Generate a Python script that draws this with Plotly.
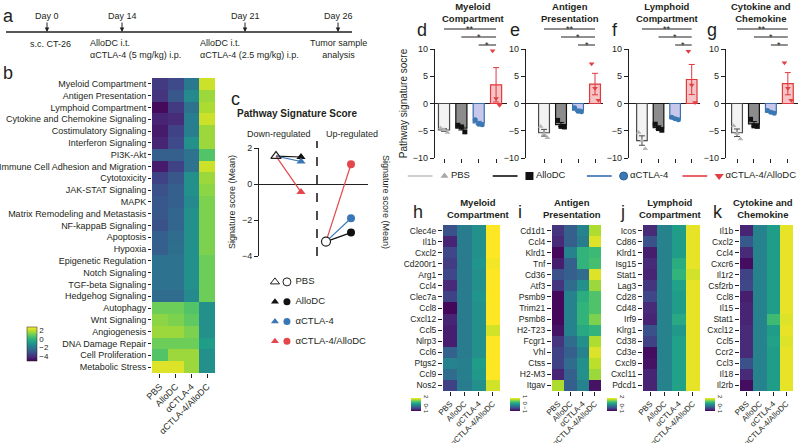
import plotly.graph_objects as go
import numpy as np

W, H = 800, 443
FONT = "Liberation Sans, Arial, Helvetica, sans-serif"
INK = "#231f20"

# ------------------------------------------------------------------ data
groups = ["PBS", "AlloDC", "αCTLA-4", "αCTLA-4/AlloDC"]

timeline_days = ["Day 0", "Day 14", "Day 21", "Day 26"]
timeline_events = ["s.c. CT-26",
                   "AlloDC i.t.<br>αCTLA-4 (5 mg/kg) i.p.",
                   "AlloDC i.t.<br>αCTLA-4 (2.5 mg/kg) i.p.",
                   "Tumor sample<br>analysis"]

pathways = ["Myeloid Compartment", "Antigen Presentation", "Lymphoid Compartment",
            "Cytokine and Chemokine Signaling", "Costimulatory Signaling",
            "Interferon Signaling", "PI3K-Akt", "Immune Cell Adhesion and Migration",
            "Cytotoxicity", "JAK-STAT Signaling", "MAPK",
            "Matrix Remodeling and Metastasis", "NF-kappaB Signaling", "Apoptosis",
            "Hypoxia", "Epigenetic Regulation", "Notch Signaling", "TGF-beta Signaling",
            "Hedgehog Signaling", "Autophagy", "Wnt Signaling", "Angiogenesis",
            "DNA Damage Repair", "Cell Proliferation", "Metabolic Stress"]
pathway_pbs = [-3.8, -4.0, -5.0, -4.4, -4.6, -4.4, -2.8, -4.6, -3.6, -3.2, -3.0, -3.0, -3.2,
               -2.8, -2.8, -2.2, -2.2, -2.2, -2.4, 1.0, 1.4, 1.6, 1.0, 0.6, 2.4]
pathway_allodc = [-3.4, -3.0, -3.8, -4.2, -3.6, -3.4, -2.8, -3.6, -3.0, -2.8, -2.8, -2.6, -2.6,
                  -2.4, -2.3, -2.2, -2.2, -2.2, -2.4, 1.0, 1.2, 1.6, 1.0, 1.6, 2.4]
pathway_actla4 = [-2.0, -1.4, -2.2, -1.8, -1.8, -1.2, -2.2, -2.2, -1.2, -1.2, -1.4, -1.2, -1.2,
                  -1.2, -1.2, -1.2, -1.2, -1.2, -1.4, 0.6, 0.8, 1.2, 1.0, 1.6, 1.6]
pathway_combo = [2.2, 1.6, 1.8, 2.2, 1.6, 1.6, 0.6, 2.2, 1.6, 1.4, 1.2, 1.2, 1.2,
                 1.2, 1.2, 1.0, 1.0, 1.0, 1.0, -1.2, -1.2, -1.2, -0.8, -1.2, -1.2]

# panel c: mean signature scores
down_pbs = 1.55
down_groups = [1.5, 1.25, -0.45]      # AlloDC, aCTLA-4, aCTLA-4/AlloDC
up_pbs = -3.2
up_groups = [-2.7, -1.9, 1.1]

# panels d-g: individual pathway signature scores (3 mice per group)
bar_titles = ["Myeloid<br>Compartment", "Antigen<br>Presentation",
              "Lymphoid<br>Compartment", "Cytokine and<br>Chemokine"]
myeloid_pts = [[-4.5, -4.8, -5.3], [-4.0, -4.3, -5.2], [-3.0, -3.8, -3.9], [9.7, 0.9, -0.3]]
antigen_pts = [[-4.2, -5.6, -6.3], [-3.1, -4.2, -4.3], [-0.8, -1.4, -1.5], [7.3, 2.8, 0.6]]
lymphoid_pts = [[-5.3, -6.8, -8.3], [-3.8, -4.6, -4.9], [-2.5, -2.8, -3.0], [9.6, 3.4, 0.2]]
cytokine_pts = [[-4.1, -5.5, -6.5], [-2.9, -4.1, -4.2], [-1.3, -1.6, -1.8], [7.5, 2.8, 0.6]]
sig_pairs = [(0, 3), (1, 3), (2, 3)]
sig_labels = ["**", "*", "*"]
bar_yticks = [-10, -5, 0, 5, 10]

# panels h-k: gene z-scores (PBS, AlloDC, aCTLA-4, aCTLA-4/AlloDC)
myeloid_genes = ["Clec4e", "Il1b", "Cxcl2", "Cd200r1", "Arg1", "Ccl4", "Clec7a", "Ccl8",
                 "Cxcl12", "Ccl5", "Nlrp3", "Ccl6", "Ptgs2", "Ccl9", "Nos2"]
myeloid_z = [[-0.25, 0.25, 0.5, 2.0], [-0.7, 0.25, 0.5, 2.0], [-0.35, 0.25, 0.5, 2.0],
             [-0.45, 0.25, 0.55, 1.95], [-0.35, 0.25, 0.5, 2.0], [-0.65, 0.25, 0.5, 2.0],
             [-0.4, 0.25, 0.55, 2.0], [-0.95, 0.25, 0.5, 2.0], [-0.7, 0.25, 0.5, 2.0],
             [-0.75, 0.25, 0.5, 1.8], [-0.75, 0.25, 0.5, 2.0], [-0.05, 0.25, 0.5, 2.0],
             [0.35, 0.3, 0.65, 2.0], [0.05, 0.3, 0.6, 2.0], [-0.4, 0.25, 0.5, 1.8]]
antigen_genes = ["Cd1d1", "Ccl4", "Klrd1", "Tnf", "Cd36", "Atf3", "Psmb9", "Trim21", "Psmb8",
                 "H2-T23", "Fcgr1", "Vhl", "Ctss", "H2-M3", "Itgav"]
antigen_z = [[-0.7, -0.4, -0.1, 0.76], [-0.76, -0.4, -0.16, 0.9], [-0.96, -0.1, 0.3, 0.36],
             [-0.84, -0.4, 0.3, 0.4], [-0.5, -0.4, -0.3, 0.9], [-0.7, -0.3, 0.0, 0.7],
             [-0.96, -0.1, 0.24, 0.44], [-0.96, -0.1, 0.3, 0.44], [-0.96, -0.1, 0.3, 0.6],
             [-0.9, -0.1, 0.2, 0.3], [-0.7, -0.3, 0.0, 0.76], [-0.6, -0.4, -0.1, 0.9],
             [-0.6, -0.3, 0.0, 0.8], [-0.8, -0.4, 0.0, 0.7], [0.76, -0.4, -0.1, -0.9]]
lymphoid_genes = ["Icos", "Cd86", "Klrd1", "Isg15", "Stat1", "Lag3", "Cd28", "Cd48", "Irf9",
                  "Klrg1", "Cd38", "Cd3e", "Cxcl9", "Cxcl11", "Pdcd1"]
lymphoid_z = [[-0.64, 0.35, 0.65, 1.9], [-0.25, 0.35, 0.65, 1.9], [-0.76, 0.35, 0.65, 1.9],
              [-0.64, 0.35, 0.85, 1.9], [-0.7, 0.35, 0.95, 1.8], [-0.55, 0.35, 0.7, 1.9],
              [-0.35, 0.35, 0.65, 1.9], [-0.64, 0.35, 0.65, 1.9], [-0.7, 0.35, 0.8, 1.9],
              [-0.25, 0.35, 0.6, 1.9], [-0.4, 0.35, 0.7, 1.9], [-0.9, 0.35, 0.7, 1.9],
              [-0.85, 0.35, 0.7, 1.9], [-0.7, 0.35, 0.7, 1.9], [-0.7, 0.35, 0.7, 1.9]]
cytokine_genes = ["Il1b", "Cxcl2", "Ccl4", "Cxcr6", "Il1r2", "Csf2rb", "Ccl8", "Il15", "Stat1",
                  "Cxcl12", "Ccl5", "Ccr2", "Ccl3", "Il18", "Il2rb"]
cytokine_z = [[-0.7, 0.35, 0.65, 1.9], [-0.15, 0.35, 0.65, 1.9], [-0.64, 0.35, 0.65, 1.9],
              [-0.9, 0.35, 0.65, 1.9], [-0.4, 0.35, 0.65, 1.9], [-0.35, 0.35, 0.65, 1.9],
              [-0.76, 0.35, 0.65, 1.9], [-0.7, 0.35, 0.65, 1.9], [-0.7, 0.35, 1.05, 1.85],
              [-0.64, 0.35, 0.65, 1.9], [-0.64, 0.35, 0.7, 1.85], [-0.64, 0.35, 0.65, 1.9],
              [-0.25, 0.35, 0.65, 1.9], [-0.64, 0.35, 0.65, 1.9], [-0.9, 0.35, 0.65, 1.9]]

# ------------------------------------------------------------------ styles / layout helpers
BAR_FILL = ["#f3f3f3", "#8c8c8c", "#c6c7ea", "#f6c4c5"]
BAR_EDGE = ["#4a4a4a", "#111111", "#3b6fae", "#e0393e"]
PT_COLOR = ["#b4b4b4", "#111111", "#3a78b5", "#e43d42"]
PT_SYMBOL = ["triangle-up", "square", "circle", "triangle-down"]
LINE_COLOR = ["#c4c4c4", "#111111", "#3a6fae", "#e43d42"]
C_COLORS = ["#111111", "#3a78b5", "#e4474b"]


def xd(a, b):
    return [a / W, b / W]


def yd(top, bottom):
    return [1 - bottom / H, 1 - top / H]


def px(x):
    return x / W


def py(y):
    return 1 - y / H


fig = go.Figure()
ann = []
shp = []
lay = dict(width=W, height=H, margin=dict(l=0, r=0, t=0, b=0, pad=0),
           paper_bgcolor="white", plot_bgcolor="rgba(0,0,0,0)", showlegend=False,
           font=dict(family=FONT, size=9, color=INK), template="none")


def text(x, y, s, size=9, bold=False, xanchor="center", yanchor="middle", align="center", **kw):
    if bold:
        s = "<b>" + s.replace("<br>", "</b><br><b>") + "</b>"
    d = dict(x=x, y=y, xref="paper", yref="paper", text=s, showarrow=False,
             font=dict(family=FONT, size=size, color=INK), xanchor=xanchor,
             yanchor=yanchor, align=align)
    d.update(kw)
    ann.append(d)


# ------------------------------------------------------------------ panel a: timeline
TL_Y = 32
TL_X = [47, 122, 245, 338]
shp.append(dict(type="line", xref="paper", yref="paper", x0=px(6), x1=px(352),
                y0=py(TL_Y), y1=py(TL_Y), line=dict(color=INK, width=1.5)))
for xpos, lab in zip(TL_X, timeline_days):
    ann.append(dict(x=px(xpos), y=py(TL_Y), xref="paper", yref="paper", text=lab,
                    showarrow=True, ax=0, ay=-16, arrowhead=2, arrowsize=0.9,
                    arrowwidth=1, arrowcolor=INK, font=dict(family=FONT, size=9, color=INK)))
text(px(50), py(37), timeline_events[0], yanchor="top")
text(px(88), py(36), timeline_events[1], xanchor="left", yanchor="top", align="left")
text(px(198), py(36), timeline_events[2], xanchor="left", yanchor="top", align="left")
text(px(338), py(36), timeline_events[3], yanchor="top")

# ------------------------------------------------------------------ panel b: heatmap
zb = np.column_stack([pathway_pbs, pathway_allodc, pathway_actla4, pathway_combo])
fig.add_trace(go.Heatmap(z=zb, x=groups, y=pathways, colorscale="Viridis", zmin=-5.2, zmax=2.8,
                         xaxis="x", yaxis="y", hoverinfo="skip",
                         colorbar=dict(x=px(27), xanchor="left", y=py(344), yanchor="middle",
                                       len=34 / H, thickness=10, thicknessmode="pixels",
                                       xpad=0, ypad=0, tickvals=[2, 0, -2, -4], ticks="",
                                       outlinewidth=0.5, outlinecolor=INK,
                                       tickfont=dict(size=8, family=FONT, color=INK))))
lay["xaxis"] = dict(domain=xd(152, 215), anchor="y", ticks="outside", ticklen=4, tickangle=-45,
                    tickfont=dict(size=9), showgrid=False, zeroline=False, showline=False,
                    tickcolor=INK)
lay["yaxis"] = dict(domain=yd(78, 373), anchor="x", autorange="reversed", ticks="outside",
                    ticklen=3, tickfont=dict(size=9), showgrid=False, zeroline=False,
                    tickcolor=INK)

# ------------------------------------------------------------------ panel c
for i, col in enumerate(C_COLORS):
    fig.add_trace(go.Scatter(x=[1, 2], y=[down_pbs, down_groups[i]], mode="lines",
                             line=dict(color=col, width=1.2), xaxis="x2", yaxis="y2"))
    fig.add_trace(go.Scatter(x=[3, 4], y=[up_pbs, up_groups[i]], mode="lines",
                             line=dict(color=col, width=1.2), xaxis="x2", yaxis="y2"))
for i, col in enumerate(C_COLORS):
    fig.add_trace(go.Scatter(x=[2], y=[down_groups[i]], mode="markers",
                             marker=dict(symbol="triangle-up", size=8, color=col),
                             xaxis="x2", yaxis="y2"))
    fig.add_trace(go.Scatter(x=[4], y=[up_groups[i]], mode="markers",
                             marker=dict(symbol="circle", size=8, color=col),
                             xaxis="x2", yaxis="y2"))
fig.add_trace(go.Scatter(x=[1], y=[down_pbs], mode="markers",
                         marker=dict(symbol="triangle-up-open", size=9, color=INK,
                                     line=dict(width=1.2)), xaxis="x2", yaxis="y2"))
fig.add_trace(go.Scatter(x=[3], y=[up_pbs], mode="markers",
                         marker=dict(symbol="circle", size=9, color="white",
                                     line=dict(width=1.2, color=INK)), xaxis="x2", yaxis="y2"))
lay["xaxis2"] = dict(domain=xd(259, 368), anchor="y2", range=[0.32, 4.68], visible=False)
c_axis = dict(range=[-4, 2], tickvals=[-4, -2, 0, 2], ticks="outside", ticklen=4,
              showline=True, linecolor=INK, linewidth=1, tickcolor=INK, showgrid=False,
              tickfont=dict(size=9))
lay["yaxis2"] = dict(domain=yd(148, 256), anchor="x2", zeroline=True, zerolinecolor=INK,
                     zerolinewidth=1, title=dict(text="Signature score (Mean)",
                                                 font=dict(size=9), standoff=4), **c_axis)
lay["yaxis3"] = dict(overlaying="y2", anchor="x2", side="right", zeroline=False, **c_axis)
text(px(386), py(202), "Signature score (Mean)", textangle=90)
shp.append(dict(type="line", xref="x2", yref="paper", x0=2.64, x1=2.64, y0=py(256), y1=py(141),
                line=dict(color=INK, width=1.6, dash="dash")))
text(px(297), py(114), "Pathway Signature Score", size=10, bold=True)
text(px(279), py(134), "Down-regulated")
text(px(352), py(134), "Up-regulated")

# legend of panel c
leg_rows = list(range(4))
fig.add_trace(go.Scatter(x=[0.033], y=[0], mode="markers", xaxis="x4", yaxis="y4",
                         marker=dict(symbol="triangle-up-open", size=8, color=INK,
                                     line=dict(width=1))))
fig.add_trace(go.Scatter(x=[0.113], y=[0], mode="markers", xaxis="x4", yaxis="y4",
                         marker=dict(symbol="circle", size=8, color="white",
                                     line=dict(width=1, color=INK))))
for i, col in enumerate(C_COLORS):
    fig.add_trace(go.Scatter(x=[0.033, 0.113], y=[i + 1, i + 1], mode="markers",
                             xaxis="x4", yaxis="y4",
                             marker=dict(symbol=["triangle-up", "circle"], size=7, color=col)))
fig.add_trace(go.Scatter(x=[0.17] * 4, y=leg_rows, mode="text", text=groups,
                         textposition="middle right", xaxis="x4", yaxis="y4",
                         textfont=dict(size=9.5, family=FONT, color=INK)))
lay["xaxis4"] = dict(domain=xd(270, 420), anchor="y4", range=[0, 1], visible=False)
lay["yaxis4"] = dict(domain=yd(272, 351), anchor="x4", range=[3.5, -0.5], visible=False)

# ------------------------------------------------------------------ panels d-g: bar charts
bar_sets = [myeloid_pts, antigen_pts, lymphoid_pts, cytokine_pts]
BAR_BOX = [(435, 507, -0.52, 3.63), (526, 603, -1.06, 3.47),
           (629, 700, -0.78, 3.5), (726, 798, -0.65, 3.6)]
TITLE_X = [473, 570, 667, 761]
LETTER_X = [422, 515, 615, 712]
SIG_Y = [29, 37, 45]
JIT = [-0.2, 0.0, 0.2]
for k, pts in enumerate(bar_sets):
    n = 5 + k
    xa, ya = f"x{n}", f"y{n}"
    for g in range(4):
        vals = np.array(pts[g])
        mean = vals.mean()
        sem = vals.std(ddof=1) / np.sqrt(len(vals))
        fig.add_trace(go.Bar(x=[g], y=[mean], width=0.64, xaxis=xa, yaxis=ya,
                             marker=dict(color=BAR_FILL[g], line=dict(color=BAR_EDGE[g], width=1.2)),
                             error_y=dict(type="data", array=[sem], color=BAR_EDGE[g],
                                          thickness=1, width=3)))
        fig.add_trace(go.Scatter(x=[g + j for j in JIT], y=vals, mode="markers",
                                 xaxis=xa, yaxis=ya,
                                 marker=dict(symbol=PT_SYMBOL[g], size=5, color=PT_COLOR[g])))
    x0, x1, r0, r1 = BAR_BOX[k]
    lay[f"xaxis{n}"] = dict(domain=xd(x0, x1), anchor=ya, range=[r0, r1], showline=False,
                            ticks="outside", ticklen=4, tickvals=[0, 1, 2, 3],
                            showticklabels=False, tickcolor=INK, zeroline=False, showgrid=False)
    yax = dict(domain=yd(49, 158), anchor=xa, range=[-10, 10], tickvals=bar_yticks,
               ticks="outside", ticklen=4, showline=True, linecolor=INK, linewidth=1.2,
               tickcolor=INK, zeroline=True, zerolinecolor=INK, zerolinewidth=1.2,
               showgrid=False, tickfont=dict(size=9))
    if k == 0:
        yax["title"] = dict(text="Pathway signature socre", font=dict(size=10), standoff=3)
    lay[f"yaxis{n}"] = yax
    for (a, b), lab, ypx in zip(sig_pairs, sig_labels, SIG_Y):
        shp.append(dict(type="line", xref=xa, yref="paper", x0=a, x1=b, y0=py(ypx), y1=py(ypx),
                        line=dict(color=INK, width=1)))
        ann.append(dict(x=(a + b) / 2, y=py(ypx), xref=xa, yref="paper", text=lab,
                        showarrow=False, yanchor="bottom", yshift=-7,
                        font=dict(family=FONT, size=9, color=INK)))
    text(px(TITLE_X[k]), py(-1), bar_titles[k], size=9.5, bold=True, yanchor="top")
    text(px(LETTER_X[k]), py(30), "defg"[k], size=18)

# ------------------------------------------------------------------ shared legend for d-g
LEG_START = [0.03, 0.955, 1.98, 3.02]
for g in range(4):
    s = LEG_START[g]
    fig.add_trace(go.Scatter(x=[s, s + 0.27], y=[0, 0], mode="lines", xaxis="x9", yaxis="y9",
                             line=dict(color=LINE_COLOR[g], width=1.6)))
    fig.add_trace(go.Scatter(x=[s + 0.40], y=[0], mode="markers", xaxis="x9", yaxis="y9",
                             marker=dict(symbol=PT_SYMBOL[g], size=8 if g else 7,
                                         color=PT_COLOR[g] if g else "#a8a8a8",
                                         line=dict(width=1 if g == 2 else 0, color="#2d5f93"))))
    fig.add_trace(go.Scatter(x=[s + 0.47], y=[0], mode="text", text=[groups[g]],
                             textposition="middle right", xaxis="x9", yaxis="y9",
                             textfont=dict(size=9.5, family=FONT, color=INK)))
lay["xaxis9"] = dict(domain=xd(405, 800), anchor="y9", range=[0, 4.3], visible=False)
lay["yaxis9"] = dict(domain=yd(168, 184), anchor="x9", range=[-1, 1], visible=False)

# ------------------------------------------------------------------ panels h-k: gene heatmaps
gene_sets = [(myeloid_genes, myeloid_z, -1, 2, [2, 0, -1]),
             (antigen_genes, antigen_z, -1, 1, [1, 0, -1]),
             (lymphoid_genes, lymphoid_z, -1, 2, [2, 0, -1]),
             (cytokine_genes, cytokine_z, -1, 2, [2, 0, -1])]
HM_BOX = [(443, 500), (552, 601), (643, 700), (740, 793)]
CB_X = [411, 510, 607, 705]
HM_TITLE_X = [478, 572, 670, 763]
HM_LETTER_X = [418, 520, 622, 718]
for k, (genes, z, zmin, zmax, cbt) in enumerate(gene_sets):
    n = 10 + k
    xa, ya = f"x{n}", f"y{n}"
    fig.add_trace(go.Heatmap(z=z, x=groups, y=genes, colorscale="Viridis", zmin=zmin, zmax=zmax,
                             xaxis=xa, yaxis=ya, hoverinfo="skip",
                             colorbar=dict(x=px(CB_X[k]), xanchor="left", y=py(404),
                                           yanchor="middle", len=13 / H, thickness=10,
                                           xpad=0, ypad=0, tickvals=cbt, ticks="",
                                           tickangle=90, outlinewidth=0,
                                           tickfont=dict(size=6, family=FONT, color=INK))))
    a, b = HM_BOX[k]
    lay[f"xaxis{n}"] = dict(domain=xd(a, b), anchor=ya, ticks="outside", ticklen=4,
                            tickangle=-45, tickfont=dict(size=8), showgrid=False,
                            zeroline=False, tickcolor=INK)
    lay[f"yaxis{n}"] = dict(domain=yd(225, 391), anchor=xa, autorange="reversed",
                            ticks="outside", ticklen=4, tickfont=dict(size=8.5),
                            showgrid=False, zeroline=False, tickcolor=INK)
    text(px(HM_TITLE_X[k]), py(195), bar_titles[k], size=9.5, bold=True, yanchor="top")
    text(px(HM_LETTER_X[k]), py(212), "hijk"[k], size=18)

# panel letters a-c
text(px(8), py(16), "a", size=18)
text(px(8), py(73), "b", size=18)
text(px(235), py(99), "c", size=18)

lay["annotations"] = ann
lay["shapes"] = shp
fig.update_layout(**lay)
fig.write_html("out.html", config={"displayModeBar": False, "staticPlot": True},
               post_script="document.body.style.margin='0';document.body.style.padding='0';"
                           "document.body.style.overflow='hidden';")
